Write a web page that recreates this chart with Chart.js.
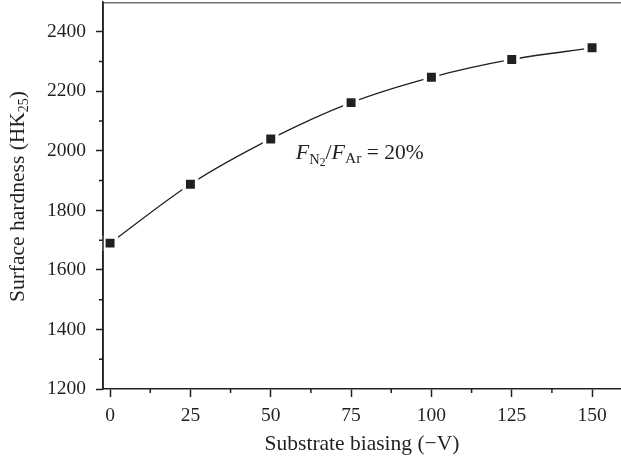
<!DOCTYPE html>
<html>
<head>
<meta charset="utf-8">
<script src="https://cdn.jsdelivr.net/npm/chart.js@4/dist/chart.umd.min.js"></script>
<style>
  html, body { margin: 0; padding: 0; background: #fff; }
  #wrap { width: 621px; height: 458px; }
</style>
</head>
<body>
<div id="wrap"><canvas id="hardnessChart" width="621" height="458"></canvas></div>
<script>
const biasVoltage = [0, 25, 50, 75, 100, 125, 150];
const hardness = [1690, 1888, 2040, 2162, 2247, 2307, 2346];
const xTickValues = [0, 25, 50, 75, 100, 125, 150];
const xMinorTicks = [12.5, 37.5, 62.5, 87.5, 112.5, 137.5];
const yTickValues = [1200, 1400, 1600, 1800, 2000, 2200, 2400];
const yMinorTicks = [1300, 1500, 1700, 1900, 2100, 2300];

const INK = '#231f20';
const SERIF = '"Liberation Serif", "Times New Roman", serif';

// draw a run of text pieces: [text, size, italic, dy]
function drawRuns(ctx, runs, x, y) {
    let cx = x;
    runs.forEach(([txt, size, italic, dy]) => {
        ctx.font = (italic ? 'italic ' : '') + size + 'px ' + SERIF;
        ctx.fillText(txt, cx, y + dy);
        cx += ctx.measureText(txt).width;
    });
    return cx - x;
}
function runsWidth(ctx, runs) {
    return runs.reduce((w, [txt, size, italic]) => {
        ctx.font = (italic ? 'italic ' : '') + size + 'px ' + SERIF;
        return w + ctx.measureText(txt).width;
    }, 0);
}

const extras = {
    id: 'extras',
    afterDraw(chart) {
        const { ctx, chartArea, scales: { x, y } } = chart;
        ctx.save();
        // top frame line
        ctx.strokeStyle = '#6d6e71';
        ctx.lineWidth = 1.5;
        ctx.beginPath();
        ctx.moveTo(chartArea.left, chartArea.top + 0.75);
        ctx.lineTo(chartArea.right, chartArea.top + 0.75);
        ctx.stroke();

        // left axis again, on top of the marker halos; minor ticks
        ctx.strokeStyle = INK;
        ctx.lineWidth = 1.5;
        ctx.beginPath();
        ctx.moveTo(chartArea.left, chartArea.top);
        ctx.lineTo(chartArea.left, chartArea.bottom);
        xMinorTicks.forEach(v => {
            const px = x.getPixelForValue(v);
            ctx.moveTo(px, chartArea.bottom);
            ctx.lineTo(px, chartArea.bottom + 4);
        });
        yMinorTicks.forEach(v => {
            const py = y.getPixelForValue(v);
            ctx.moveTo(chartArea.left, py);
            ctx.lineTo(chartArea.left - 4, py);
        });
        ctx.stroke();

        ctx.fillStyle = INK;
        ctx.textBaseline = 'alphabetic';
        ctx.textAlign = 'left';

        // annotation F_N2 / F_Ar = 20%
        const ax = x.getPixelForValue(57.8);
        const ay = y.getPixelForValue(1974);
        drawRuns(ctx, [
            ['F', 22, true, 0],
            ['N', 14.5, false, 5],
            ['2', 11.5, false, 7],
            ['/', 22, false, 0],
            ['F', 22, true, 0],
            ['Ar', 15.5, false, 4],
            [' = 20%', 21.5, false, 0]
        ], ax, ay);

        // y axis title with subscript
        const yRuns = [
            ['Surface hardness (HK', 21.5, false, 0],
            ['25', 14, false, 4],
            [')', 21.5, false, 0]
        ];
        const w = runsWidth(ctx, yRuns);
        ctx.translate(24, 196.5);
        ctx.rotate(-Math.PI / 2);
        drawRuns(ctx, yRuns, -w / 2, 0);
        ctx.restore();
    }
};

new Chart(document.getElementById('hardnessChart').getContext('2d'), {
    type: 'line',
    data: {
        labels: biasVoltage,
        datasets: [{
            data: biasVoltage.map((v, i) => ({ x: v, y: hardness[i] })),
            borderColor: INK,
            borderWidth: 1.3,
            cubicInterpolationMode: 'monotone',
            pointStyle: 'rect',
            pointRadius: 8.8,
            pointBackgroundColor: INK,
            pointBorderColor: '#fff',
            pointBorderWidth: 3.5,
            clip: false
        }]
    },
    options: {
        responsive: false,
        animation: false,
        layout: { autoPadding: false, padding: { top: 2, right: 0, left: 0, bottom: 0 } },
        plugins: { legend: { display: false }, tooltip: { enabled: false } },
        scales: {
            x: {
                type: 'linear',
                min: -2.2,
                max: 159,
                afterBuildTicks: s => { s.ticks = xTickValues.map(v => ({ value: v })); },
                afterFit: s => { s.height = 69; s.paddingLeft = 0; s.paddingRight = 0; },
                grid: { drawOnChartArea: false, tickLength: 8, tickColor: INK, tickWidth: 1.5 },
                border: { color: INK, width: 1.5 },
                ticks: { color: INK, font: { family: SERIF, size: 19.5 }, padding: 7, maxRotation: 0, callback: v => String(v) },
                title: {
                    display: true,
                    text: 'Substrate biasing (\u2212V)',
                    color: INK,
                    font: { family: SERIF, size: 21.5 },
                    padding: { top: 4, bottom: 1 }
                }
            },
            y: {
                min: 1200,
                max: 2500,
                afterBuildTicks: s => { s.ticks = yTickValues.map(v => ({ value: v })); },
                afterFit: s => { s.width = 103; s.paddingTop = 0; s.paddingBottom = 0; },
                grid: { drawOnChartArea: false, tickLength: 7, tickColor: INK, tickWidth: 1.5 },
                border: { color: INK, width: 1.5 },
                ticks: { color: INK, font: { family: SERIF, size: 19.5 }, padding: 10, callback: v => String(v) }
            }
        }
    },
    plugins: [extras]
});
</script>
</body>
</html>
